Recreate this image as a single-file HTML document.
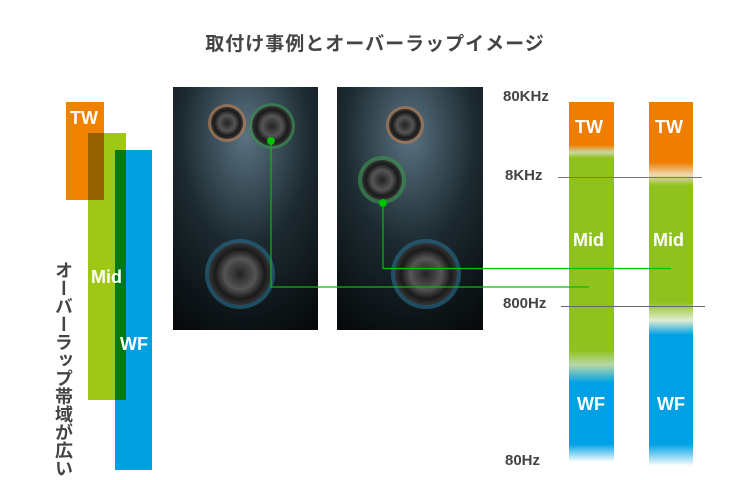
<!DOCTYPE html>
<html><head><meta charset="utf-8"><style>
body{margin:0;width:750px;height:480px;background:#fff;position:relative;overflow:hidden;font-family:"Liberation Sans","Noto Sans CJK JP",sans-serif}
.a{position:absolute}
.w{color:#fff;font-weight:bold;font-size:18px}
.lb{position:absolute;color:#444;font-weight:bold;font-size:15px}
</style></head><body>
<div class="a" style="left:0;width:750px;top:29px;text-align:center;font-size:19px;font-weight:bold;color:#444;letter-spacing:1px">取付け事例とオーバーラップイメージ</div>

<div class="a" style="left:66px;top:102px;width:38px;height:98px;background:#ef8200"></div>
<div class="a" style="left:88px;top:133px;width:38px;height:267px;background:#9fc716"></div>
<div class="a" style="left:88px;top:133px;width:16px;height:67px;background:#946300"></div>
<div class="a" style="left:115px;top:150px;width:37px;height:320px;background:#009fe0"></div>
<div class="a" style="left:115px;top:150px;width:11px;height:250px;background:#007a16"></div>
<div class="a w" style="left:70px;top:108px">TW</div>
<div class="a w" style="left:91px;top:267px">Mid</div>
<div class="a w" style="left:120px;top:334px">WF</div>
<div class="a" style="left:52px;top:261px;width:22px;font-size:18px;font-weight:bold;color:#444;writing-mode:vertical-rl;line-height:22px">オーバーラップ帯域が広い</div>

<svg class="a" style="left:0;top:0" width="750" height="480">
<defs>
<radialGradient id="bg" cx="0.5" cy="0.2" r="0.9"><stop offset="0" stop-color="#5a7282"/><stop offset="0.5" stop-color="#1c2a30"/><stop offset="1" stop-color="#060a0c"/></radialGradient>
<radialGradient id="sp"><stop offset="0" stop-color="#222"/><stop offset="0.5" stop-color="#555"/><stop offset="0.8" stop-color="#1a1a1a"/><stop offset="1" stop-color="#333"/></radialGradient>
</defs>
<rect x="173" y="87" width="145" height="243" fill="url(#bg)"/>
<rect x="337" y="87" width="146" height="243" fill="url(#bg)"/>
<circle cx="227" cy="123" r="19" fill="#b07a50" opacity="0.7"/><circle cx="227" cy="123" r="16" fill="url(#sp)"/>
<circle cx="272" cy="126" r="23" fill="#3a8a50" opacity="0.7"/><circle cx="272" cy="126" r="20" fill="url(#sp)"/>
<circle cx="240" cy="274" r="35" fill="#2a7090" opacity="0.6"/><circle cx="240" cy="274" r="31" fill="url(#sp)"/>
<circle cx="405" cy="125" r="19" fill="#b07a50" opacity="0.7"/><circle cx="405" cy="125" r="16" fill="url(#sp)"/>
<circle cx="382" cy="180" r="24" fill="#3a8a50" opacity="0.7"/><circle cx="382" cy="180" r="20" fill="url(#sp)"/>
<circle cx="426" cy="274" r="35" fill="#2a7090" opacity="0.6"/><circle cx="426" cy="274" r="31" fill="url(#sp)"/>
<defs>
<linearGradient id="b1" x1="0" y1="102" x2="0" y2="462" gradientUnits="userSpaceOnUse">
<stop offset="0" stop-color="#ef7d00"/><stop offset="0.119" stop-color="#ef7d00"/><stop offset="0.14" stop-color="#c8d8a0"/><stop offset="0.155" stop-color="#8fc21f"/><stop offset="0.69" stop-color="#8fc21f"/><stop offset="0.73" stop-color="#b8d8a8"/><stop offset="0.78" stop-color="#00a0e4"/><stop offset="0.95" stop-color="#00a0e4"/><stop offset="1" stop-color="#ffffff"/></linearGradient>
<linearGradient id="b2" x1="0" y1="102" x2="0" y2="466" gradientUnits="userSpaceOnUse">
<stop offset="0" stop-color="#ef7d00"/><stop offset="0.165" stop-color="#ef7d00"/><stop offset="0.2" stop-color="#efd8b0"/><stop offset="0.23" stop-color="#8fc21f"/><stop offset="0.55" stop-color="#8fc21f"/><stop offset="0.6" stop-color="#e0ecd0"/><stop offset="0.64" stop-color="#00a0e4"/><stop offset="0.94" stop-color="#00a0e4"/><stop offset="1" stop-color="#ffffff"/></linearGradient>
</defs>
<rect x="569" y="102" width="45" height="360" fill="url(#b1)"/>
<rect x="649" y="102" width="44" height="364" fill="url(#b2)"/>
<line x1="558" y1="177.5" x2="702" y2="177.5" stroke="#777" stroke-width="1"/>
<line x1="561" y1="306.5" x2="705" y2="306.5" stroke="#666" stroke-width="1"/>
<polyline points="271,141 271,287 589,287" fill="none" stroke="#00c000" stroke-width="1.2"/>
<polyline points="383,203 383,268.5 671,268.5" fill="none" stroke="#00c000" stroke-width="1.2"/>
<circle cx="271" cy="141" r="4" fill="#00c000"/>
<circle cx="383" cy="203" r="4" fill="#00c000"/>
</svg>
<div class="a w" style="left:575px;top:117px">TW</div>
<div class="a w" style="left:655px;top:117px">TW</div>
<div class="a w" style="left:573px;top:230px">Mid</div>
<div class="a w" style="left:653px;top:230px">Mid</div>
<div class="a w" style="left:577px;top:394px">WF</div>
<div class="a w" style="left:657px;top:394px">WF</div>
<div class="lb" style="left:503px;top:88px">80KHz</div>
<div class="lb" style="left:505px;top:167px">8KHz</div>
<div class="lb" style="left:503px;top:295px">800Hz</div>
<div class="lb" style="left:505px;top:452px">80Hz</div>
</body></html>
